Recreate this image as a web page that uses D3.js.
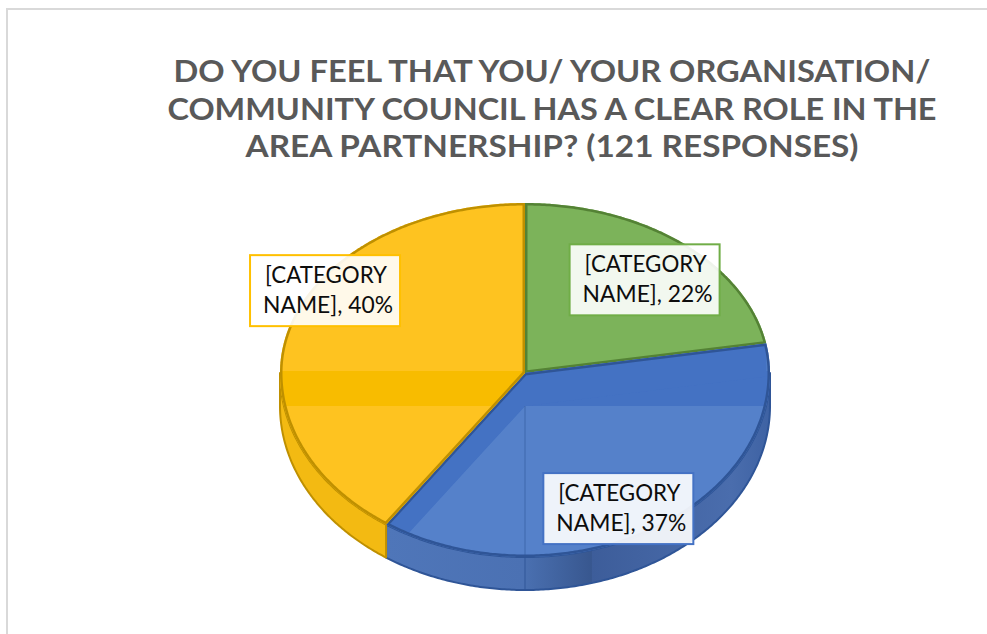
<!DOCTYPE html>
<html>
<head>
<meta charset="utf-8">
<script src="https://cdn.jsdelivr.net/npm/d3@7"></script>
<style>
  html, body { margin: 0; padding: 0; background: #ffffff; overflow: hidden; }
  svg { display: block; }
</style>
</head>
<body>
<svg id="chart" width="987" height="634"></svg>
<script>
// ---- data ----
const categories = ["[CATEGORY NAME]", "[CATEGORY NAME]", "[CATEGORY NAME]"];
const percentages = [22, 37, 40];
const titleLines = [
  "DO YOU FEEL THAT YOU/ YOUR ORGANISATION/",
  "COMMUNITY COUNCIL HAS A CLEAR ROLE IN THE",
  "AREA PARTNERSHIP? (121 RESPONSES)"
];

// ---- styling / layout ----
const sliceStyle = [
  { top: "#7CB35A", band: "#7CB35A", edge: "#548235", wall: "#5E963F", label: "#70AD47" },
  { top: "#5581CA", band: "#4472C3", edge: "#2F5597", wall: "url(#blueWall)", label: "#4472C4" },
  { top: "#FEC320", band: "#F8BC00", edge: "#BF9000", wall: "#F3BA12", label: "#FFC000" }
];
// label offsets from the slice anchor point (px)
const labelNudge = [[1.5, 5], [-6, 20], [-24.5, -44]];
const titleWidths = [757, 769, 613];

const W = 987, H = 634;
const cx = 525, cy = 373, rx = 245, ryTop = 170, ryBot = 184, depth = 33;

const svg = d3.select("#chart");
const defs = svg.append("defs");

// frame
svg.append("rect")
  .attr("x", 7).attr("y", 9).attr("width", 1100).attr("height", 800)
  .attr("fill", "none").attr("stroke", "#D9D9D9").attr("stroke-width", 2);

// title
const title = svg.append("g").attr("font-family", "Lato, 'Open Sans', sans-serif")
  .attr("font-weight", 700).attr("font-size", 31).attr("fill", "#595959")
  .attr("text-anchor", "middle");
titleLines.forEach((t, i) => {
  title.append("text")
    .attr("x", 552).attr("y", 82 + i * 37.5)
    .attr("textLength", titleWidths[i]).attr("lengthAdjust", "spacingAndGlyphs")
    .text(t);
});

// projection of the tilted pie: angle measured clockwise from 12 o'clock
function pt(a, r = 1, dy = 0) {
  const s = Math.sin(a), c = Math.cos(a);
  return [cx + r * rx * s, cy - r * c * (c >= 0 ? ryTop : ryBot) + dy];
}
function arcPoints(a0, a1, dy) {
  const n = Math.max(2, Math.ceil((a1 - a0) / 0.01));
  return d3.range(n + 1).map(i => pt(a0 + (a1 - a0) * i / n, 1, dy));
}
const line = d3.line();

const arcs = d3.pie().sort(null).startAngle(0).endAngle(2 * Math.PI)(percentages);

// blue side-wall shading
const g1 = defs.append("linearGradient").attr("id", "blueWall")
  .attr("gradientUnits", "userSpaceOnUse").attr("x1", 386).attr("x2", 770).attr("y1", 0).attr("y2", 0);
[[0, "#4F76B9"], [0.358, "#4B71B3"], [0.36, "#4A70B1"], [0.535, "#38578F"],
 [0.537, "#3D5D9A"], [0.9, "#4A6DAD"], [1, "#3E62A3"]]
  .forEach(([o, c]) => g1.append("stop").attr("offset", o).attr("stop-color", c));

const topPath = d => line([[cx, cy], ...arcPoints(d.startAngle, d.endAngle, 0)]) + "Z";

// clip paths of each top face
arcs.forEach((d, i) => {
  defs.append("clipPath").attr("id", "face" + i)
    .append("path").attr("d", topPath(d));
});

// outer walls (front half only)
const walls = svg.append("g");
arcs.forEach((d, i) => {
  const v0 = Math.max(d.startAngle, Math.PI / 2), v1 = Math.min(d.endAngle, 3 * Math.PI / 2);
  if (v1 <= v0) return;
  const pts = arcPoints(v0, v1, 0).concat(arcPoints(v0, v1, depth).reverse());
  walls.append("path").attr("d", line(pts) + "Z")
    .attr("fill", sliceStyle[i].wall)
    .attr("stroke", sliceStyle[i].edge).attr("stroke-width", 2).attr("stroke-linejoin", "round");
});
// seam down the front of the wall
walls.append("line")
  .attr("x1", cx).attr("x2", cx).attr("y1", cy + ryBot).attr("y2", cy + ryBot + depth)
  .attr("stroke", "#2F5597").attr("stroke-opacity", 0.45).attr("stroke-width", 2);

// top faces
const faces = svg.append("g");
arcs.forEach((d, i) => {
  const g = faces.append("g");
  g.append("path").attr("d", topPath(d)).attr("fill", sliceStyle[i].top);
  // inner shading: horizontal band plus the radial walls seen through the face
  const sh = g.append("g").attr("clip-path", `url(#face${i})`).attr("fill", sliceStyle[i].band);
  sh.append("rect").attr("x", cx - rx - 5).attr("y", cy - 2)
    .attr("width", 2 * rx + 10).attr("height", depth + 2);
  arcs.forEach(e => {
    [e.startAngle, e.endAngle].forEach(a => {
      const p = pt(a);
      sh.append("path").attr("d", line([[cx, cy], p, [p[0], p[1] + depth], [cx, cy + depth]]) + "Z");
    });
  });
  // central seam
  sh.append("line").attr("x1", cx).attr("x2", cx).attr("y1", cy + depth).attr("y2", cy + ryBot + 5)
    .attr("stroke", sliceStyle[i].edge).attr("stroke-opacity", 0.3).attr("stroke-width", 2);
  // outline kept inside its own face
  g.append("path").attr("d", topPath(d)).attr("fill", "none")
    .attr("clip-path", `url(#face${i})`)
    .attr("stroke", sliceStyle[i].edge).attr("stroke-width", 5).attr("stroke-linejoin", "round");
});

// data labels
const labels = svg.append("g").attr("font-family", "Lato, 'Open Sans', sans-serif")
  .attr("font-size", 23.5).attr("fill", "#0D0D0D").attr("text-anchor", "middle");
arcs.forEach((d, i) => {
  const mid = (d.startAngle + d.endAngle) / 2;
  const a = pt(mid, 0.75);
  const x = a[0] + labelNudge[i][0], y = a[1] + labelNudge[i][1];
  const name = categories[i];
  const parts = name.split(" ");
  const l1 = parts[0];
  const l2 = parts.slice(1).join(" ") + ", " + percentages[i] + "%";
  const g = labels.append("g");
  g.append("rect").attr("x", x - 75).attr("y", y - 36).attr("width", 150).attr("height", 71)
    .attr("fill", "#ffffff").attr("fill-opacity", 0.9)
    .attr("stroke", sliceStyle[i].label).attr("stroke-width", 2);
  g.append("text").attr("x", x + 1).attr("y", y - 8)
    .attr("textLength", 122).attr("lengthAdjust", "spacingAndGlyphs").text(l1);
  g.append("text").attr("x", x + 3).attr("y", y + 22)
    .attr("textLength", 130).attr("lengthAdjust", "spacingAndGlyphs").text(l2);
});
</script>
</body>
</html>
